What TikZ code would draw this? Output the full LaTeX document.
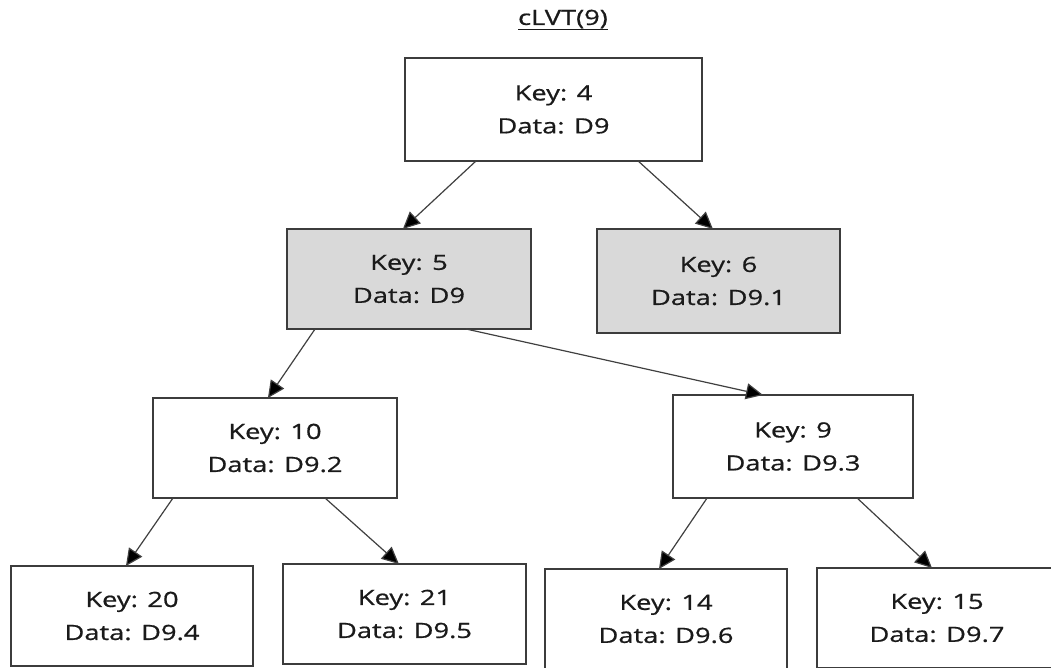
\documentclass[tikz,border=0pt]{standalone}
\usepackage{fontspec}
\setmainfont[FakeStretch=1.3,FakeBold=0.8]{Open Sans}
\usetikzlibrary{arrows.meta,calc}
\definecolor{boxline}{HTML}{3C3C3C}
\definecolor{boxgray}{HTML}{D9D9D9}
\definecolor{edgeline}{HTML}{404040}
\definecolor{txt}{HTML}{1A1A1A}
\newcommand{\nodefont}{\fontsize{21}{33}\selectfont}
\tikzset{
  treebox/.style={draw=boxline, line width=1.6pt, fill=white, rectangle,
    inner sep=0pt, outer sep=0pt, align=center, font=\nodefont, text=txt},
  graybox/.style={treebox, fill=boxgray},
  edge/.style={draw=edgeline, line width=1.2pt,
    -{Triangle[length=17pt,width=16pt,fill=black]}},
}
\begin{document}
\begin{tikzpicture}[x=1pt,y=-1pt]
\useasboundingbox (0,0) rectangle (1051,668);
\fill[white] (0,0) rectangle (1051,668);
\clip (0,0) rectangle (1051,668);

\node[font=\nodefont, text=txt] (title) at (563,20) {\underline{cLVT(9)}};

\node[treebox, minimum width=297pt, minimum height=103pt] (root) at (553.5,109.5) {Key: 4\\Data: D9};
\node[graybox, minimum width=244pt, minimum height=100pt] (k5) at (409,279) {Key: 5\\Data: D9};
\node[graybox, minimum width=243pt, minimum height=104pt] (k6) at (718.5,281) {Key: 6\\Data: D9.1};
\node[treebox, minimum width=244pt, minimum height=100pt] (k10) at (275,448) {Key: 10\\Data: D9.2};
\node[treebox, minimum width=240pt, minimum height=103pt] (k9) at (793,446.5) {Key: 9\\Data: D9.3};
\node[treebox, minimum width=242pt, minimum height=100pt] (k20) at (132,616) {Key: 20\\Data: D9.4};
\node[treebox, minimum width=243pt, minimum height=100pt] (k21) at (404.5,614) {Key: 21\\Data: D9.5};
\node[treebox, minimum width=242pt, minimum height=100pt] (k14) at (666,619) {Key: 14\\Data: D9.6};
\node[treebox, minimum width=240pt, minimum height=100pt] (k15) at (937,618) {Key: 15\\Data: D9.7};

\draw[edge] ($(root.south west)!0.239!(root.south east)$) -- ($(k5.north west)!0.475!(k5.north east)$);
\draw[edge] ($(root.south west)!0.785!(root.south east)$) -- ($(k6.north west)!0.477!(k6.north east)$);
\draw[edge] ($(k5.south west)!0.115!(k5.south east)$) -- ($(k10.north west)!0.471!(k10.north east)$);
\draw[edge] ($(k5.south west)!0.734!(k5.south east)$) -- ($(k9.north west)!0.375!(k9.north east)$);
\draw[edge] ($(k10.south west)!0.082!(k10.south east)$) -- ($(k20.north west)!0.475!(k20.north east)$);
\draw[edge] ($(k10.south west)!0.705!(k10.south east)$) -- ($(k21.north west)!0.477!(k21.north east)$);
\draw[edge] ($(k9.south west)!0.142!(k9.south east)$) -- ($(k14.north west)!0.471!(k14.north east)$);
\draw[edge] ($(k9.south west)!0.767!(k9.south east)$) -- ($(k15.north west)!0.479!(k15.north east)$);
\end{tikzpicture}
\end{document}
